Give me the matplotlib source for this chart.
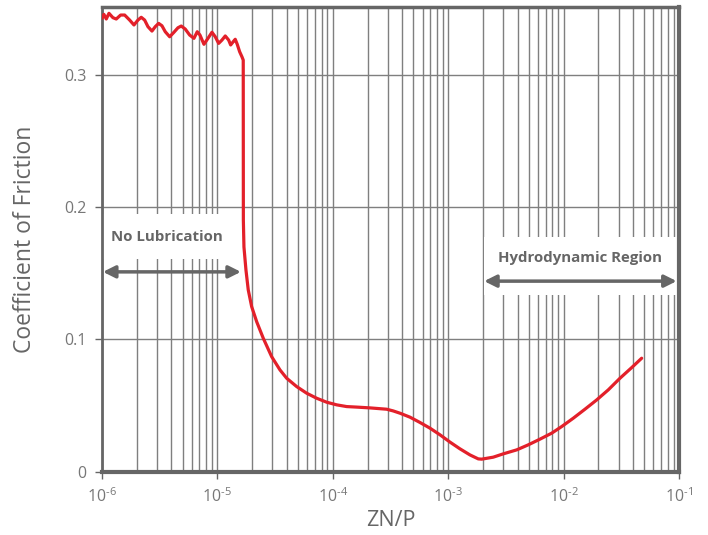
"""Stribeck-style friction curve: coefficient of friction vs ZN/P."""

import matplotlib

matplotlib.use("Agg")

import matplotlib.pyplot as plt
from matplotlib.patches import Rectangle

plt.rcParams["font.family"] = ["Open Sans", "DejaVu Sans"]
plt.rcParams["mathtext.fontset"] = "custom"
plt.rcParams["mathtext.rm"] = "Open Sans"

GREY = "#666666"
LABEL_GREY = "#777777"
GRID = "#7f7f7f"
RED = "#e3202a"

# curve
zn_p = [
    # wavy dry-friction plateau
    1.000e-6, 1.040e-6, 1.090e-6, 1.150e-6, 1.245e-6, 1.330e-6, 1.452e-6,
    1.573e-6, 1.738e-6, 1.894e-6, 2.051e-6, 2.190e-6, 2.344e-6, 2.504e-6,
    2.713e-6, 2.896e-6, 3.099e-6, 3.311e-6, 3.536e-6, 3.861e-6, 4.206e-6,
    4.556e-6, 4.866e-6, 5.270e-6, 5.754e-6, 6.269e-6, 6.695e-6, 7.066e-6,
    7.654e-6, 8.291e-6, 8.979e-6, 9.590e-6, 1.026e-5, 1.096e-5, 1.171e-5,
    1.253e-5, 1.304e-5, 1.373e-5, 1.429e-5, 1.487e-5, 1.560e-5, 1.633e-5,
    1.676e-5,
    # drop and boundary / mixed region
    1.680e-5, 1.700e-5, 1.769e-5, 1.852e-5, 1.982e-5, 2.191e-5, 2.499e-5,
    2.954e-5, 3.487e-5, 3.986e-5, 4.866e-5, 5.939e-5, 7.250e-5, 8.852e-5,
    1.081e-4, 1.319e-4, 1.611e-4, 2.101e-4, 2.932e-4, 3.344e-4, 3.821e-4,
    4.667e-4, 5.695e-4, 6.956e-4, 8.489e-4, 1.036e-3, 1.265e-3, 1.545e-3,
    1.823e-3,
    # hydrodynamic region
    1.951e-3, 2.459e-3, 3.002e-3, 3.923e-3, 4.942e-3, 6.245e-3, 7.883e-3,
    9.627e-3, 1.213e-2, 1.532e-2, 1.935e-2, 2.439e-2, 3.082e-2, 3.891e-2,
    4.751e-2,
]
friction = [
    0.3424, 0.3454, 0.3419, 0.3462, 0.3429, 0.3419, 0.3449,
    0.3449, 0.3411, 0.3374, 0.3411, 0.3432, 0.3411, 0.3361,
    0.3328, 0.3361, 0.3386, 0.3368, 0.3323, 0.3285, 0.3319,
    0.3353, 0.3366, 0.3343, 0.3298, 0.3273, 0.3323, 0.3298,
    0.3228, 0.3273, 0.3319, 0.3285, 0.3235, 0.3260, 0.3291,
    0.3260, 0.3223, 0.3248, 0.3266, 0.3228, 0.3172, 0.3134,
    0.3109,
    0.1900, 0.1698, 0.1525, 0.1374, 0.1248, 0.1134, 0.1009,
    0.0870, 0.0770, 0.0707, 0.0644, 0.0594, 0.0556, 0.0526,
    0.0506, 0.0493, 0.0489, 0.0483, 0.0473, 0.0460, 0.0443,
    0.0413, 0.0373, 0.0330, 0.0280, 0.0225, 0.0174, 0.0128,
    0.0098,
    0.0096, 0.0111, 0.0136, 0.0166, 0.0204, 0.0247, 0.0292,
    0.0342, 0.0405, 0.0473, 0.0543, 0.0619, 0.0707, 0.0787,
    0.0858,
]

x_ticks = [1e-6, 1e-5, 1e-4, 1e-3, 1e-2, 1e-1]
x_exponents = [6, 5, 4, 3, 2, 1]
x_tick_labels = [r"$\mathregular{10^{\text{-}%d}}$" % e for e in x_exponents]
y_ticks = [0, 0.1, 0.2, 0.3]
y_tick_labels = ["0", "0.1", "0.2", "0.3"]

fig = plt.figure(figsize=(7.08, 5.35), dpi=100)
ax = fig.add_axes([0.144, 0.118, 0.815, 0.869])
ax.set_xscale("log")
ax.set_xlim(1e-6, 1e-1)
ax.set_ylim(0, 0.351)

# grid: every log minor position and the 0.1 steps
ax.set_xticks(x_ticks)
ax.set_xticklabels(x_tick_labels)
ax.set_yticks(y_ticks)
ax.set_yticklabels(y_tick_labels)
ax.grid(which="both", axis="x", color=GRID, linewidth=1)
ax.grid(which="major", axis="y", color=GRID, linewidth=1)
ax.tick_params(axis="x", which="minor", length=0)
ax.tick_params(axis="both", which="major", length=5, width=1, color=GREY,
               labelcolor=LABEL_GREY, labelsize=11.5, pad=6)
ax.set_axisbelow(True)

for side, lw in (("left", 2), ("bottom", 3), ("top", 2.5), ("right", 3)):
    ax.spines[side].set_color(GREY)
    ax.spines[side].set_linewidth(lw)

# white boxes behind the region labels
ax.add_patch(Rectangle((1e-6, 0.1608), 1.51e-5 - 1e-6, 0.0339,
                       facecolor="white", edgecolor="none", zorder=1))
ax.add_patch(Rectangle((2.04e-3, 0.1336), 0.0962 - 2.04e-3, 0.0438,
                       facecolor="white", edgecolor="none", zorder=1))

ax.plot(zn_p, friction, color=RED, linewidth=2.3, solid_joinstyle="round",
        solid_capstyle="round", zorder=3)

arrow = dict(arrowstyle="<|-|>", color=GREY, linewidth=2.5,
             mutation_scale=18, shrinkA=0, shrinkB=0)
ax.annotate("", xy=(1.02e-6, 0.151), xytext=(1.6e-5, 0.151),
            arrowprops=arrow, zorder=2)
ax.annotate("", xy=(2.05e-3, 0.144), xytext=(0.0955, 0.144),
            arrowprops=arrow, zorder=2)
ax.text(3.66e-6, 0.1774, "No Lubrication", ha="center", va="center",
        fontsize=10.8, fontweight="bold", color=GREY, zorder=2)
ax.text(1.39e-2, 0.1615, "Hydrodynamic Region", ha="center", va="center",
        fontsize=10.8, fontweight="bold", color=GREY, zorder=2)

ax.set_xlabel("ZN/P", fontsize=15.5, color=GREY, labelpad=3)
ax.set_ylabel("Coefficient of Friction", fontsize=16.5, color=GREY,
              labelpad=20)

fig.savefig("out.png", dpi=100)
